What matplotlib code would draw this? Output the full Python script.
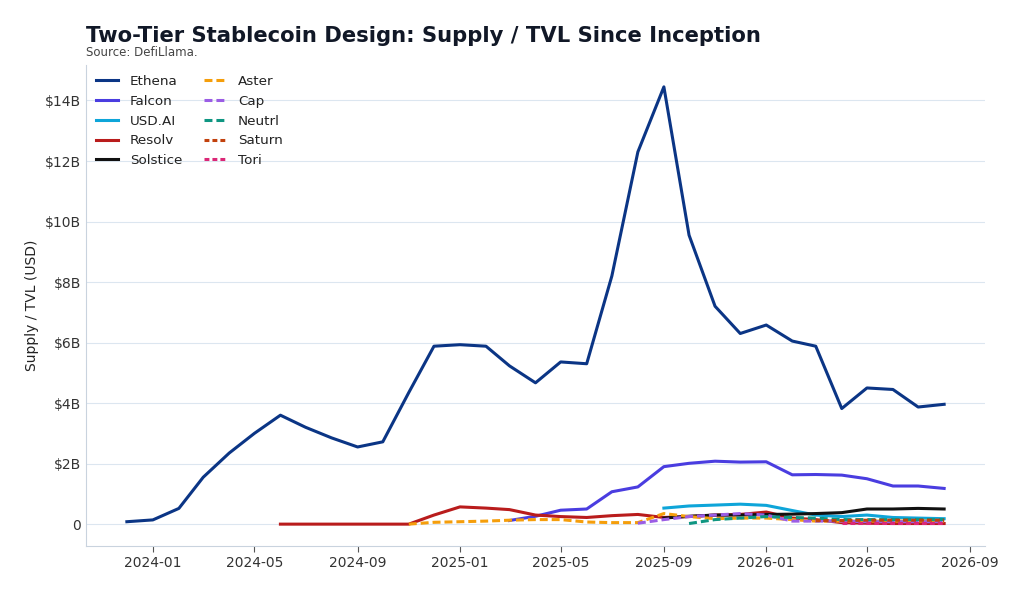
import matplotlib
matplotlib.use("Agg")
import matplotlib.pyplot as plt
import matplotlib.dates as mdates
from matplotlib.ticker import FuncFormatter
import pandas as pd

ethena_start = "2023-12-01"
ethena = [0.08, 0.14, 0.52, 1.55, 2.35, 3.0, 3.6, 3.2, 2.85, 2.55, 2.72, 4.35, 5.88,
          5.93, 5.88, 5.23, 4.67, 5.36, 5.30, 8.2, 12.3, 14.45, 9.55, 7.2, 6.3,
          6.58, 6.05, 5.88, 3.82, 4.5, 4.45, 3.87, 3.96]

falcon_start = "2025-03-01"
falcon = [0.12, 0.26, 0.46, 0.50, 1.07, 1.23, 1.90, 2.01, 2.08, 2.05, 2.06, 1.63, 1.64,
          1.62, 1.50, 1.26, 1.26, 1.18]

usdai_start = "2025-09-01"
usdai = [0.53, 0.60, 0.63, 0.66, 0.62, 0.45, 0.30, 0.25, 0.30, 0.22, 0.20, 0.18]

resolv_start = "2024-06-01"
resolv = [0.0, 0.0, 0.0, 0.0, 0.0, 0.0, 0.30, 0.57, 0.53, 0.48, 0.30, 0.25, 0.22,
          0.28, 0.32, 0.22, 0.25, 0.30, 0.32, 0.40, 0.20, 0.15, 0.05, 0.03, 0.02, 0.02, 0.02]

solstice_start = "2025-09-01"
solstice = [0.20, 0.26, 0.30, 0.30, 0.32, 0.33, 0.35, 0.38, 0.50, 0.50, 0.52, 0.50]

aster_start = "2024-11-01"
aster = [0.0, 0.06, 0.08, 0.10, 0.13, 0.15, 0.15, 0.07, 0.05, 0.05, 0.35, 0.25, 0.18,
         0.20, 0.20, 0.15, 0.10, 0.10, 0.10, 0.10, 0.10, 0.10]

cap_start = "2025-08-01"
cap = [0.03, 0.15, 0.25, 0.30, 0.35, 0.30, 0.10, 0.10, 0.10, 0.08, 0.08, 0.08, 0.08]

neutrl_start = "2025-10-01"
neutrl = [0.02, 0.15, 0.20, 0.25, 0.22, 0.20, 0.15, 0.15, 0.15, 0.15, 0.15]

saturn_start = "2026-03-01"
saturn = [0.12, 0.12, 0.13, 0.13, 0.13, 0.13]

tori_start = "2026-04-01"
tori = [0.05, 0.05, 0.05, 0.05, 0.05]

dash = (0, (2.6, 1.3))
dot = (0, (1.6, 1.0))
series = [
    ("Ethena", ethena_start, ethena, "#0b3585", "-"),
    ("Falcon", falcon_start, falcon, "#4a3de0", "-"),
    ("USD.AI", usdai_start, usdai, "#0ea5d9", "-"),
    ("Resolv", resolv_start, resolv, "#b91c1c", "-"),
    ("Solstice", solstice_start, solstice, "#111111", "-"),
    ("Aster", aster_start, aster, "#f59e0b", dash),
    ("Cap", cap_start, cap, "#9b5de5", dash),
    ("Neutrl", neutrl_start, neutrl, "#0f9682", dash),
    ("Saturn", saturn_start, saturn, "#c2410c", dot),
    ("Tori", tori_start, tori, "#db2777", dot),
]

fig = plt.figure(figsize=(10.23, 5.94), dpi=100)
ax = fig.add_axes([86/1023, 1-546/594, (985-86)/1023, (546-65)/594])

for name, start, vals, color, ls in series:
    dates = pd.date_range(start, periods=len(vals), freq="MS")
    ax.plot(dates, vals, color=color, linestyle=ls, linewidth=2.2, label=name)

ax.xaxis.set_major_locator(mdates.MonthLocator(bymonth=[1, 5, 9]))
ax.xaxis.set_major_formatter(mdates.DateFormatter("%Y-%m"))
ax.yaxis.set_major_formatter(FuncFormatter(lambda v, p: "0" if abs(v) < 1e-9 else f"${v:.0f}B"))
ax.set_yticks([0, 2, 4, 6, 8, 10, 12, 14])

ax.grid(axis="y", color="#dce6f0", linewidth=0.8)
ax.set_axisbelow(True)
for s in ["top", "right"]:
    ax.spines[s].set_visible(False)
for s in ["left", "bottom"]:
    ax.spines[s].set_color("#c9d3de")
ax.tick_params(axis="y", length=0, labelsize=10, colors="#333333")
ax.tick_params(axis="x", length=4, color="#555555", labelsize=10, labelcolor="#333333")
ax.set_ylabel("Supply / TVL (USD)", fontsize=10, color="#222222")

leg = ax.legend(loc="upper left", ncol=2, frameon=False, fontsize=9.7,
                handlelength=1.6, handletextpad=0.9, columnspacing=1.65,
                labelspacing=0.5, borderaxespad=0.35,
                bbox_to_anchor=(0.0, 1.0))
for t in leg.get_texts():
    t.set_color("#222222")

fig.text(86/1023, 1-36/594, "Two-Tier Stablecoin Design: Supply / TVL Since Inception",
         fontsize=15.2, fontweight="bold", color="#111827", va="center")
fig.text(86/1023, 1-53/594, "Source: DefiLlama.", fontsize=8.5, color="#444444", va="center")

fig.savefig("out.png", dpi=100)
